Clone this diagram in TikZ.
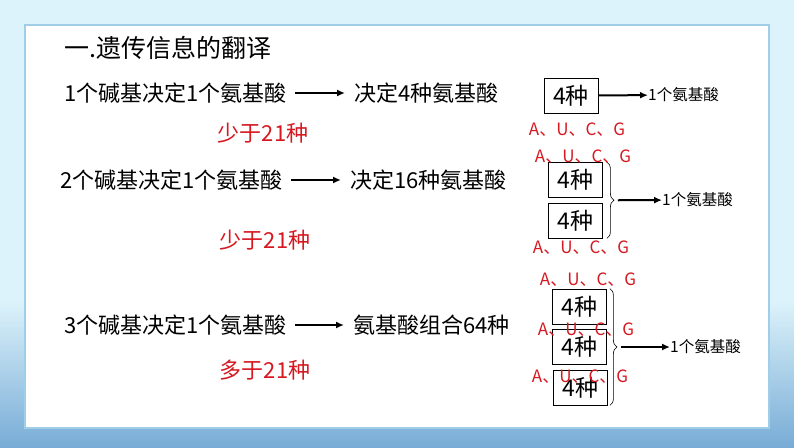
\documentclass[tikz,border=0pt]{standalone}
\usepackage{fontspec}
\newfontfamily\cjk{Noto Sans CJK SC}
\usetikzlibrary{arrows.meta,positioning,decorations.pathreplacing}
\definecolor{slidebg}{RGB}{221,243,251}
\definecolor{waterblue}{RGB}{120,172,214}
\definecolor{panelline}{RGB}{160,205,232}
\definecolor{notered}{RGB}{214,24,32}

\begin{document}
\begin{tikzpicture}[x=1pt,y=-1pt,
  txt/.style={font=\cjk\fontsize{22}{22}\selectfont,inner sep=0pt,anchor=west},
  redtxt/.style={font=\cjk\fontsize{22}{22}\selectfont,text=notered,inner sep=0pt},
  base/.style={font=\cjk\fontsize{17}{17}\selectfont,text=notered,inner sep=0pt},
  box/.style={draw,line width=0.8pt,minimum width=54pt,minimum height=35pt,inner sep=0pt,font=\cjk\fontsize{23}{23}\selectfont},
  amino/.style={font=\cjk\fontsize{15.5}{15.5}\selectfont,inner sep=0pt,anchor=west},
  arr/.style={-{Latex[length=8pt,width=7pt]},line width=2pt},
  brc/.style={decorate,decoration={brace,amplitude=7pt},line width=0.6pt}]
\useasboundingbox (0,0) rectangle (794,447);
% slide background
\fill[slidebg] (0,0) rectangle (794,447);
\shade[top color=slidebg,bottom color=waterblue] (0,300) rectangle (794,447);
\fill[white,draw=panelline,line width=1.2pt] (25,25) rectangle (769,428);

\node[anchor=west,inner sep=0pt,font=\cjk\fontsize{25}{25}\selectfont] (title) at (64,48) {一.遗传信息的翻译};

% left column
\node[txt] (r1a) at (64,93) {1个碱基决定1个氨基酸};
\node[txt] (r1b) at (354,93) {决定4种氨基酸};
\draw[arr,shorten <=8pt,shorten >=9pt] (r1a) -- (r1b);
\node[redtxt] (less1) at (263,133) {少于21种};

\node[txt] (r2a) at (60,180) {2个碱基决定1个氨基酸};
\node[txt] (r2b) at (350,180) {决定16种氨基酸};
\draw[arr,shorten <=8pt,shorten >=9pt] (r2a) -- (r2b);
\node[redtxt] (less2) at (265,240) {少于21种};

\node[txt] (r3a) at (64,325) {3个碱基决定1个氨基酸};
\node[txt] (r3b) at (353,325) {氨基酸组合64种};
\draw[arr,shorten <=8pt,shorten >=9pt] (r3a) -- (r3b);
\node[redtxt] (more3) at (265,370) {多于21种};

% right column
\node[box] (b1) at (571,95.5) {4种};
\node[amino] (a1) at (648,95) {1个氨基酸};
\draw[arr] (b1) -- (a1);

\node[box] (b2) at (575.5,180) {4种};
\node[box] (b3) at (575.5,220.5) {4种};
\draw[brc] ([xshift=4pt]b2.north east) -- ([xshift=4pt]b3.south east) coordinate[midway,xshift=11pt] (t2);
\node[amino] (a2) at (662,200) {1个氨基酸};
\draw[arr] (t2) -- (a2);

\node[box] (b4) at (579.5,306.5) {4种};
\node[box] (b5) at (579.5,347) {4种};
\node[box] (b6) at (580.5,387.5) {4种};
\draw[brc] ([xshift=3pt]b4.north east) -- ([xshift=2pt]b6.south east) coordinate[midway,xshift=11pt] (t3);
\node[amino] (a3) at (670,347) {1个氨基酸};
\draw[arr] (t3) -- (a3);

% bases
\node[base] (l1) at (577,130) {A、U、C、G};
\node[base] (l2) at (583,157) {A、U、C、G};
\node[base] (l3) at (581,248) {A、U、C、G};
\node[base] (l4) at (588,280) {A、U、C、G};
\node[base] (l5) at (586,330) {A、U、C、G};
\node[base] (l6) at (580,377) {A、U、C、G};
\end{tikzpicture}
\end{document}
